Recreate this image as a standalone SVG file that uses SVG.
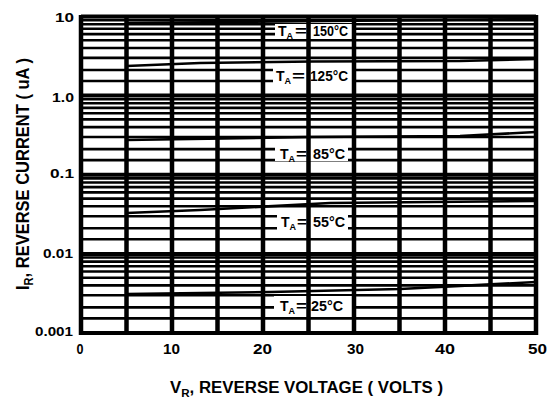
<svg xmlns="http://www.w3.org/2000/svg" width="550" height="401" viewBox="0 0 550 401">
<style>
.h{stroke:#000;stroke-width:2.6;fill:none}
.d{stroke:#000;stroke-width:4;fill:none}
.v{stroke:#000;stroke-width:4.5;fill:none}
.c{stroke:#000;stroke-width:2.6;fill:none}
.box{fill:#fff}
text{font-family:"Liberation Sans",Arial,sans-serif;font-weight:bold;fill:#000}
.tk{font-size:13px;text-anchor:end}
.xt{font-size:14px;text-anchor:middle}
.lb{font-size:14px}
.sb{font-size:9px}
</style>
<rect width="550" height="401" fill="#fff"/>
<g id="grid-horizontal">
<line class="d" x1="81" y1="16.5" x2="536" y2="16.5"/>
<line class="h" x1="81" y1="20.1" x2="536" y2="20.1"/>
<line class="h" x1="81" y1="24.2" x2="536" y2="24.2"/>
<line class="h" x1="81" y1="28.8" x2="536" y2="28.8"/>
<line class="h" x1="81" y1="34.1" x2="536" y2="34.1"/>
<line class="h" x1="81" y1="40.3" x2="536" y2="40.3"/>
<line class="h" x1="81" y1="48.0" x2="536" y2="48.0"/>
<line class="h" x1="81" y1="57.9" x2="536" y2="57.9"/>
<line class="h" x1="81" y1="70.0" x2="536" y2="70.0"/>
<line class="h" x1="81" y1="81.0" x2="536" y2="81.0"/>
<line class="d" x1="81" y1="95.6" x2="536" y2="95.6"/>
<line class="h" x1="81" y1="99.2" x2="536" y2="99.2"/>
<line class="h" x1="81" y1="103.3" x2="536" y2="103.3"/>
<line class="h" x1="81" y1="107.9" x2="536" y2="107.9"/>
<line class="h" x1="81" y1="113.2" x2="536" y2="113.2"/>
<line class="h" x1="81" y1="119.4" x2="536" y2="119.4"/>
<line class="h" x1="81" y1="127.1" x2="536" y2="127.1"/>
<line class="h" x1="81" y1="137.0" x2="536" y2="137.0"/>
<line class="h" x1="81" y1="149.1" x2="536" y2="149.1"/>
<line class="h" x1="81" y1="160.1" x2="536" y2="160.1"/>
<line class="d" x1="81" y1="174.8" x2="536" y2="174.8"/>
<line class="h" x1="81" y1="178.4" x2="536" y2="178.4"/>
<line class="h" x1="81" y1="182.5" x2="536" y2="182.5"/>
<line class="h" x1="81" y1="187.1" x2="536" y2="187.1"/>
<line class="h" x1="81" y1="192.4" x2="536" y2="192.4"/>
<line class="h" x1="81" y1="198.6" x2="536" y2="198.6"/>
<line class="h" x1="81" y1="206.3" x2="536" y2="206.3"/>
<line class="h" x1="81" y1="216.2" x2="536" y2="216.2"/>
<line class="h" x1="81" y1="228.3" x2="536" y2="228.3"/>
<line class="h" x1="81" y1="239.3" x2="536" y2="239.3"/>
<line class="d" x1="81" y1="253.9" x2="536" y2="253.9"/>
<line class="h" x1="81" y1="257.5" x2="536" y2="257.5"/>
<line class="h" x1="81" y1="261.6" x2="536" y2="261.6"/>
<line class="h" x1="81" y1="266.2" x2="536" y2="266.2"/>
<line class="h" x1="81" y1="271.5" x2="536" y2="271.5"/>
<line class="h" x1="81" y1="277.7" x2="536" y2="277.7"/>
<line class="h" x1="81" y1="285.4" x2="536" y2="285.4"/>
<line class="h" x1="81" y1="295.3" x2="536" y2="295.3"/>
<line class="h" x1="81" y1="307.4" x2="536" y2="307.4"/>
<line class="h" x1="81" y1="318.4" x2="536" y2="318.4"/>
<line class="d" x1="81" y1="333" x2="536" y2="333"/>
</g>
<g id="curves">
<polyline id="curve-150" class="c" points="126.5,23 330,21 536,19"/>
<polyline id="curve-125" class="c" points="126.5,66 200,63 313,61.5 460,61 536,59"/>
<polyline id="curve-85" class="c" points="126.5,140 310,137 460,136 536,132"/>
<polyline id="curve-55" class="c" points="126.5,213 200,210 330,203 536,201"/>
<polyline id="curve-25" class="c" points="126.5,294 270,292 400,289 536,282"/>
</g>
<g id="label-boxes">
<rect class="box" x="275" y="24" width="77" height="15"/>
<rect class="box" x="273" y="67" width="79" height="17"/>
<rect class="box" x="275" y="145" width="73" height="16"/>
<rect class="box" x="277" y="213" width="71" height="17"/>
<rect class="box" x="274" y="296" width="78" height="18"/>
</g>
<g id="grid-vertical">
<line class="v" x1="81" y1="15" x2="81" y2="335"/>
<line class="v" x1="126.5" y1="15" x2="126.5" y2="335"/>
<line class="v" x1="172" y1="15" x2="172" y2="335"/>
<line class="v" x1="217.5" y1="15" x2="217.5" y2="335"/>
<line class="v" x1="263" y1="15" x2="263" y2="335"/>
<line class="v" x1="308.5" y1="15" x2="308.5" y2="335"/>
<line class="v" x1="354" y1="15" x2="354" y2="335"/>
<line class="v" x1="399.5" y1="15" x2="399.5" y2="335"/>
<line class="v" x1="445" y1="15" x2="445" y2="335"/>
<line class="v" x1="490.5" y1="15" x2="490.5" y2="335"/>
<line class="v" x1="536" y1="15" x2="536" y2="335"/>
</g>
<g id="curve-labels">
<g id="label-150">
<text class="lb" x="278" y="36">T<tspan class="sb" dy="3">A</tspan><tspan x="295" dy="-3" textLength="12" lengthAdjust="spacingAndGlyphs">=</tspan><tspan x="313" textLength="35" lengthAdjust="spacingAndGlyphs">150°C</tspan></text>
</g>
<g id="label-125">
<text class="lb" x="276" y="81">T<tspan class="sb" dy="3">A</tspan><tspan x="292" dy="-3" textLength="13" lengthAdjust="spacingAndGlyphs">=</tspan><tspan x="310" textLength="38" lengthAdjust="spacingAndGlyphs">125°C</tspan></text>
</g>
<g id="label-85">
<text class="lb" x="280" y="159">T<tspan class="sb" dy="3">A</tspan><tspan x="296" dy="-3" textLength="11" lengthAdjust="spacingAndGlyphs">=</tspan><tspan x="313" textLength="32" lengthAdjust="spacingAndGlyphs">85°C</tspan></text>
</g>
<g id="label-55">
<text class="lb" x="281" y="227">T<tspan class="sb" dy="3">A</tspan><tspan x="297" dy="-3" textLength="10" lengthAdjust="spacingAndGlyphs">=</tspan><tspan x="313" textLength="32" lengthAdjust="spacingAndGlyphs">55°C</tspan></text>
</g>
<g id="label-25">
<text class="lb" x="280" y="311">T<tspan class="sb" dy="3">A</tspan><tspan x="296" dy="-3" textLength="11" lengthAdjust="spacingAndGlyphs">=</tspan><tspan x="311" textLength="32" lengthAdjust="spacingAndGlyphs">25°C</tspan></text>
</g>
</g>
<g id="y-ticks">
<text class="tk" x="74" y="21.5" textLength="19" lengthAdjust="spacingAndGlyphs">10</text>
<text class="tk" x="74" y="101.5" textLength="22" lengthAdjust="spacingAndGlyphs">1.0</text>
<text class="tk" x="74" y="177.5" textLength="24" lengthAdjust="spacingAndGlyphs">0.1</text>
<text class="tk" x="73" y="258" textLength="30" lengthAdjust="spacingAndGlyphs">0.01</text>
<text class="tk" x="73" y="336" textLength="38" lengthAdjust="spacingAndGlyphs">0.001</text>
</g>
<g id="x-ticks">
<text class="xt" x="80" y="354" textLength="7" lengthAdjust="spacingAndGlyphs">0</text>
<text class="xt" x="171.5" y="354" textLength="17" lengthAdjust="spacingAndGlyphs">10</text>
<text class="xt" x="262.5" y="354" textLength="19" lengthAdjust="spacingAndGlyphs">20</text>
<text class="xt" x="355.5" y="354" textLength="17" lengthAdjust="spacingAndGlyphs">30</text>
<text class="xt" x="445" y="354" textLength="20" lengthAdjust="spacingAndGlyphs">40</text>
<text class="xt" x="537.5" y="354" textLength="19" lengthAdjust="spacingAndGlyphs">50</text>
</g>
<g id="axis-titles">
<text x="170" y="393" font-size="16" textLength="273" lengthAdjust="spacingAndGlyphs">V<tspan font-size="11" dy="4">R</tspan><tspan dy="-4">, REVERSE VOLTAGE ( VOLTS )</tspan></text>
<text transform="translate(29,290) rotate(-90)" x="0" y="0" font-size="18" textLength="232" lengthAdjust="spacingAndGlyphs">I<tspan font-size="12" dy="4">R</tspan><tspan dy="-4">, REVERSE CURRENT ( uA )</tspan></text>
</g>
</svg>
